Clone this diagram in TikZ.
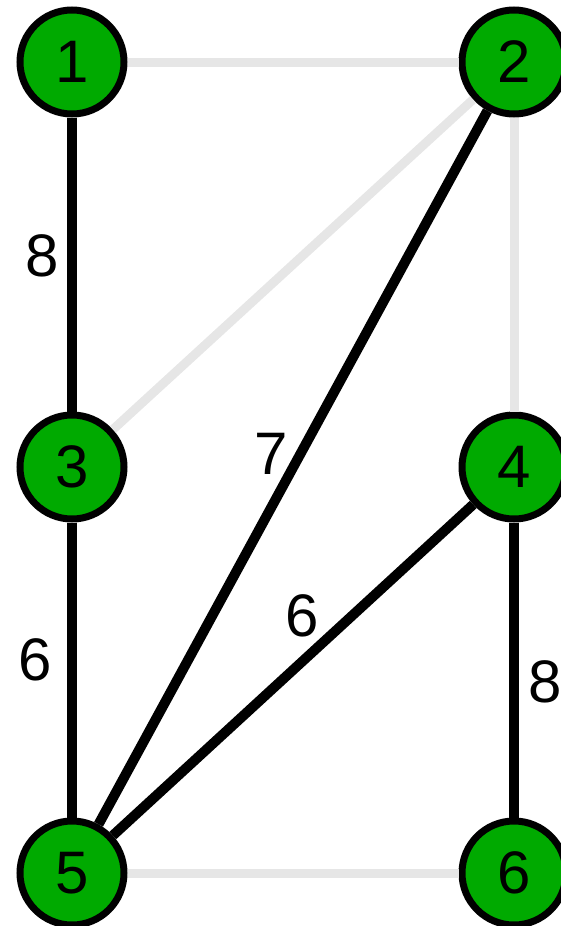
\documentclass[tikz,border=0pt]{standalone}
\usepackage{fontspec}
\setmainfont{Liberation Sans}
\definecolor{nodegreen}{HTML}{00AA00}
\definecolor{lightedge}{HTML}{E6E6E6}
\begin{document}
\begin{tikzpicture}[x=1pt,y=-1pt,
  vertex/.style={circle,draw=black,line width=7pt,fill=nodegreen,minimum size=104pt,inner sep=0pt,font=\fontsize{60}{60}\selectfont},
  used/.style={draw=black,line width=10pt},
  unused/.style={draw=lightedge,line width=9pt},
  weight/.style={inner sep=0pt,font=\fontsize{60}{60}\selectfont}]
\useasboundingbox (0,0) rectangle (561,926);
\node[vertex] (n1) at (72,62) {1};
\node[vertex] (n2) at (514,62) {2};
\node[vertex] (n3) at (72,467) {3};
\node[vertex] (n4) at (514,467) {4};
\node[vertex] (n5) at (72,873) {5};
\node[vertex] (n6) at (514,873) {6};
\begin{scope}[on background layer/.try]
\end{scope}
\draw[unused] (n1) -- (n2);
\draw[unused] (n2) -- (n3);
\draw[unused] (n2) -- (n4);
\draw[unused] (n5) -- (n6);
\draw[used] (n1) -- (n3);
\draw[used] (n3) -- (n5);
\draw[used] (n2) -- (n5);
\draw[used] (n4) -- (n5);
\draw[used] (n4) -- (n6);
\node[weight] (w13) at (42,256) {8};
\node[weight] (w25) at (271,454) {7};
\node[weight] (w35) at (35,660) {6};
\node[weight] (w45) at (302,616) {6};
\node[weight] (w46) at (545,682) {8};
\end{tikzpicture}
\end{document}
